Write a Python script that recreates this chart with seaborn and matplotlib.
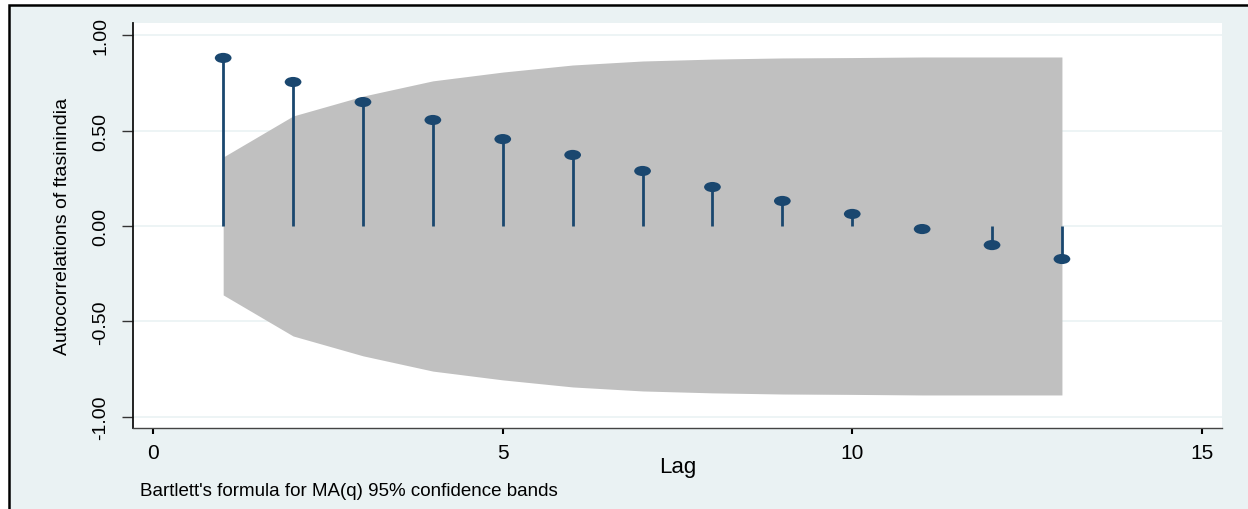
import numpy as np
import matplotlib
matplotlib.use('Agg')
import matplotlib.pyplot as plt
from matplotlib.path import Path
from matplotlib.patches import Rectangle
import seaborn as sns

# autocorrelations
lags = [1, 2, 3, 4, 5, 6, 7, 8, 9, 10, 11, 12, 13]
acf = [0.880, 0.754, 0.649, 0.555, 0.455, 0.372, 0.288, 0.204, 0.131, 0.063, -0.016, -0.100, -0.173]
# Bartlett 95% band half-width at each lag
band = [0.361, 0.576, 0.680, 0.760, 0.806, 0.843, 0.864, 0.874, 0.880, 0.882, 0.885, 0.885, 0.885]

xticks = [0, 5, 10, 15]
yticks = [-1.0, -0.5, 0.0, 0.5, 1.0]

navy = '#1a476f'
stata_bg = '#eaf2f3'

sns.set_theme(style='white')
plt.rcParams['font.family'] = ['Liberation Sans', 'DejaVu Sans']
plt.rcParams['text.color'] = 'black'
plt.rcParams['axes.labelcolor'] = 'black'
plt.rcParams['xtick.color'] = 'black'
plt.rcParams['ytick.color'] = 'black'
narrow = ['Liberation Sans Narrow', 'Liberation Sans', 'DejaVu Sans']

W, H = 1248, 510
fig = plt.figure(figsize=(W / 100, H / 100), dpi=100, facecolor='white')

# stata style outer frame (only top and left edges fall inside the image)
fig.patches.append(Rectangle((9 / W, -0.1), 1.2, 1 - 6 / H + 0.1, transform=fig.transFigure,
                             facecolor=stata_bg, edgecolor='black', lw=1.8, zorder=-10))

ax = fig.add_axes([133 / W, 1 - 429 / H, (1222 - 133) / W, (429 - 24) / H])
ax.set_facecolor('white')

# confidence band
ax.fill_between(lags, -np.array(band), band, color='#c0c0c0', lw=0, zorder=1)

for y in yticks:
    ax.axhline(y, color=stata_bg, lw=1.2, zorder=0.5)

# stems + elliptical markers
ax.vlines(lags, 0, acf, color=navy, lw=2, zorder=2)
ellipse = Path(Path.unit_circle().vertices * [1.65, 1.0], Path.unit_circle().codes)
sns.scatterplot(x=lags, y=acf, marker=ellipse, s=145, color=navy, edgecolor='none',
                ax=ax, zorder=3, legend=False)

ax.set_xlim(-0.29, 15.29)
ax.set_ylim(-1.058, 1.063)
ax.set_xticks(xticks)
ax.set_yticks(yticks)
ax.set_yticklabels([f'{v:.2f}' for v in yticks], rotation=90, va='center',
                   family=narrow, fontsize=14)
ax.set_xticklabels([str(v) for v in xticks], fontsize=15)

for s in ['top', 'right']:
    ax.spines[s].set_visible(False)
ax.spines['left'].set_color('#111111')
ax.spines['left'].set_linewidth(1.3)
ax.spines['bottom'].set_color('#444444')
ax.spines['bottom'].set_linewidth(1.0)
ax.tick_params(axis='y', length=8, width=1, color='#333333', pad=9, left=True)
ax.tick_params(axis='x', length=4, width=1.5, color='black', pad=7, bottom=True)

ax.set_xlabel('Lag', fontsize=16)
ax.xaxis.set_label_coords(0.5, -0.068)
ax.set_ylabel('Autocorrelations of ftasinindia', family=narrow, fontsize=14)
ax.yaxis.set_label_coords(-0.057, 0.5)

fig.text(140 / W, 1 - 496 / H, "Bartlett's formula for MA(q) 95% confidence bands",
         fontsize=13.5, va='baseline', ha='left')

fig.savefig('out.png', dpi=100, facecolor='white')
